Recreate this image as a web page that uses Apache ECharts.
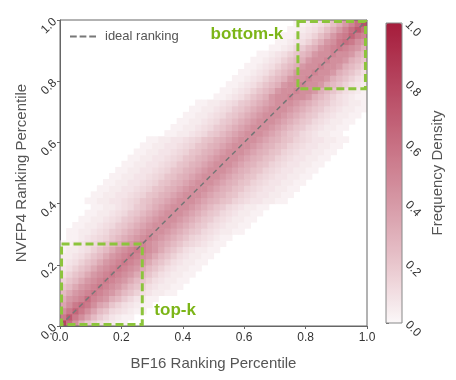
<!DOCTYPE html>
<html><head><meta charset="utf-8">
<script src="https://cdn.jsdelivr.net/npm/echarts@6/dist/echarts.min.js"></script>
<style>html,body{margin:0;padding:0;background:#fff}#c{width:456px;height:380px}</style>
</head><body><div id="c"></div>
<script>
// ---- data ----
const axisTicks = [0, 0.2, 0.4, 0.6, 0.8, 1.0];
const nBins = 50;
const levelScale = 40;
// Density grid. Row k = NVFP4 bin k (bottom -> top),
// column = BF16 bin. Each character is a base-36 digit: level / 40.
const densityRows = [
"woic864321 1000000000 0000000000 0000000000 0000000000",
"msmiea7532 1100000000 0000000000 0000000000 0000000000",
"imqmiea854 3211000000 0000000000 0000000000 0000000000",
"eimomiec86 4321100000 0000000000 0000000000 0000000000",
"cgikokigca 7532110000 0000000000 0000000000 0000000000",
"adgikmkigd a864322110 0000000000 0000000000 0000000000",
"8adgikmkig da86432211 0000000000 0000000000 0000000000",
"68adgikmki gda8643221 1000000000 0000000000 0000000000",
"468adgikmk igda864322 1100000000 0000000000 0000000000",
"3468adgikm kigda86432 2110000000 0000000000 0000000000",
"23468adgik mkigda8643 2211000000 0000000000 0000000000",
"223468adgi kmkigda864 3221100000 0000000000 0000000000",
"1223468adg ikmkigda86 4322110000 0000000000 0000000000",
"11234568ac egikigeca8 6543211000 0000000000 0000000000",
"011234568a cegikigeca 8654321100 0000000000 0000000000",
"0112234578 acegiiigec a875432211 0000000000 0000000000",
"0011223457 8acegiiige ca87543221 1000000000 0000000000",
"0001122345 78acegiiig eca8754322 1100000000 0000000000",
"0000112234 578acegiii geca875432 2110000000 0000000000",
"0000011223 4578acegii igeca87543 2211000000 0000000000",
"0000112233 45689bcegi iigecb9865 4332211000 0000000000",
"0000011223 345689bceg iiigecb986 5433221100 0000000000",
"0000001122 3345689bce giiigecb98 6543322110 0000000000",
"0000000112 23345689bc egiiigecb9 8654332211 0000000000",
"0000000011 223345689b cegiiigecb 9865433221 1000000000",
"0000000001 1223345689 bcegiiigec b986543322 1100000000",
"0000000000 1122334568 9bcegiiige cb98654332 2110000000",
"0000000000 0112233456 89bcegiiig ecb9865433 2211000000",
"0000000000 0011223345 689bcegiii gecb986543 3221100000",
"0000000000 0001122334 5689bcegii igecb98654 3322110000",
"0000000000 0000112233 45689bcegi iigecb9865 4332211000",
"0000000000 0000000112 234578aceg iiigeca875 4322110000",
"0000000000 0000000011 2234578ace giiigeca87 5432211000",
"0000000000 0000000001 12234578ac egiiigeca8 7543221100",
"0000000000 0000000000 112234578a cegiiigeca 8754322110",
"0000000000 0000000000 0112234578 acegiiigec a875432211",
"0000000000 0000000000 0011223457 8acegiiige ca87543221",
"0000000000 0000000000 0000011234 68acgiikii gca8643211",
"0000000000 0000000000 0000001123 468acgiiki igca864321",
"0000000000 0000000000 0000000112 3468acgiik iigca86432",
"0000000000 0000000000 0000000011 23468acgii kiigca8643",
"0000000000 0000000000 0000000001 123468acgi ikiigca864",
"0000000000 0000000000 0000000000 1123468acg iikiigca86",
"0000000000 0000000000 0000000000 01123468ac giikiigca8",
"0000000000 0000000000 0000000000 001123468a cgiikiigca",
"0000000000 0000000000 0000000000 0000112357 acgikmkigc",
"0000000000 0000000000 0000000000 0000011234 69cgimomig",
"0000000000 0000000000 0000000000 0000001123 469cgkmqmk",
"0000000000 0000000000 0000000000 0000000112 3469cgkoso",
"0000000000 0000000000 0000000000 0000000011 23469cgkou"
];
const idealLine = [[0, 0], [1, 1]];
const regionBoxes = [
  [0.005, 0.005, 0.268, 0.268],   // top-k
  [0.775, 0.775, 0.995, 0.995]    // bottom-k
];
const colorStops = ['#fbf7f8', '#e8c5cc', '#d699a6', '#c76f82', '#b6455f', '#a51c3b'];

// ---- build ----
const cells = [];
densityRows.forEach((r, j) => {
  const row = r.replace(/ /g, '');
  for (let i = 0; i < row.length; i++) {
    const n = parseInt(row[i], 36);
    if (n > 0) cells.push([i / nBins, j / nBins, n / levelScale]);
  }
});

const FONT = 'Liberation Sans, Arial, sans-serif';
const chart = echarts.init(document.getElementById('c'), null, {renderer: 'canvas'});
const fmt = v => v.toFixed(1);

chart.setOption({
  animation: false,
  backgroundColor: '#fff',
  textStyle: {fontFamily: FONT},
  grid: [
    {left: 60, top: 20, width: 307, height: 306, show: true, borderColor: '#666', borderWidth: 1,
     backgroundColor: 'transparent', z: 5},
    {left: 386, top: 23, width: 16, height: 300, show: true, borderColor: '#888', borderWidth: 1,
     backgroundColor: 'transparent', z: 10}
  ],
  xAxis: [
    {type: 'value', gridIndex: 0, min: 0, max: 1, interval: 0.2,
     axisLine: {show: true, lineStyle: {color: '#666'}},
     axisTick: {show: true, length: 3, lineStyle: {color: '#666'}},
     splitLine: {show: false},
     axisLabel: {fontSize: 12, color: '#333', margin: 6, formatter: fmt, fontFamily: FONT},
     name: 'BF16 Ranking Percentile', nameLocation: 'middle', nameGap: 30,
     nameTextStyle: {fontSize: 15, color: '#555', fontFamily: FONT}},
    {type: 'value', gridIndex: 1, min: 0, max: 1, show: false}
  ],
  yAxis: [
    {type: 'value', gridIndex: 0, min: 0, max: 1, interval: 0.2,
     axisLine: {show: true, lineStyle: {color: '#666'}},
     axisTick: {show: true, length: 3, lineStyle: {color: '#666'}},
     splitLine: {show: false},
     axisLabel: {fontSize: 12, color: '#333', margin: 5, rotate: 45, formatter: fmt, fontFamily: FONT},
     name: 'NVFP4 Ranking Percentile', nameLocation: 'middle', nameGap: 30,
     nameTextStyle: {fontSize: 15, color: '#555', fontFamily: FONT}},
    {type: 'value', gridIndex: 1, min: 0, max: 1, interval: 0.2, position: 'right',
     axisLine: {show: false},
     axisTick: {show: true, length: 3, lineStyle: {color: '#666'}},
     splitLine: {show: false},
     axisLabel: {fontSize: 12, color: '#333', margin: 5, rotate: -45, formatter: fmt, fontFamily: FONT},
     name: 'Frequency Density', nameLocation: 'middle', nameGap: 28,
     nameTextStyle: {fontSize: 15, color: '#555', fontFamily: FONT}}
  ],
  visualMap: {
    type: 'continuous', min: 0, max: 1, dimension: 2, seriesIndex: 0,
    left: 386, top: 23, itemWidth: 16, itemHeight: 300, padding: 0,
    calculable: false, hoverLink: false, text: null, showLabel: false,
    inRange: {color: colorStops}
  },
  legend: {
    data: [{name: 'ideal ranking',
            icon: 'path://M0,0H7V2H0Z M10,0H17V2H10Z M20,0H27V2H20Z'}],
    left: 70, top: 30, padding: 0, itemWidth: 26, itemHeight: 2,
    itemGap: 8, textStyle: {fontSize: 13, color: '#555', fontFamily: FONT, padding: [0, 0, 0, 4]},
    itemStyle: {color: '#777'},
    selectedMode: false
  },
  series: [
    {
      type: 'custom', name: 'density', xAxisIndex: 0, yAxisIndex: 0, data: cells, clip: true, z: 2,
      renderItem: function (params, api) {
        const x = api.value(0), y = api.value(1);
        const p0 = api.coord([x, y + 1 / nBins]);
        const p1 = api.coord([x + 1 / nBins, y]);
        return {type: 'rect',
          shape: {x: p0[0], y: p0[1], width: p1[0] - p0[0] + 0.6, height: p1[1] - p0[1] + 0.6},
          style: {fill: api.visual('color')}};
      }
    },
    {
      type: 'line', name: 'ideal ranking', data: idealLine, symbol: 'none', z: 6,
      lineStyle: {color: '#777', width: 1.5, type: [5, 4]},
      itemStyle: {color: '#777'}
    },
    {
      type: 'custom', name: 'regions', data: regionBoxes, clip: false, z: 7,
      renderItem: function (params, api) {
        const a = api.coord([api.value(0), api.value(3)]);
        const b = api.coord([api.value(2), api.value(1)]);
        return {type: 'rect', shape: {x: a[0], y: a[1], width: b[0] - a[0], height: b[1] - a[1]},
          style: {fill: 'none', stroke: '#8cc43c', lineWidth: 3, lineDash: [8, 4]}};
      }
    },
    {
      type: 'custom', name: 'labels', clip: false, z: 8,
      data: [[0.609, 0.954, 'bottom-k'], [0.375, 0.052, 'top-k']],
      renderItem: function (params, api) {
        const p = api.coord([api.value(0), api.value(1)]);
        return {type: 'text', x: p[0], y: p[1],
          style: {text: api.value(2), fill: '#7cb518', font: 'bold 17px ' + FONT,
                  align: 'center', verticalAlign: 'middle'}};
      }
    }
  ]
});
</script></body></html>
